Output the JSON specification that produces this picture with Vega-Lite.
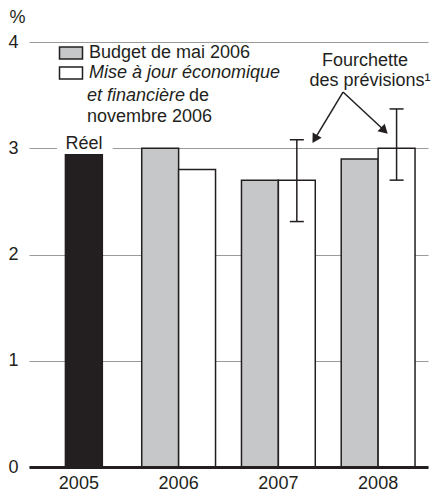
{
  "$schema": "https://vega.github.io/schema/vega-lite/v6.json",
  "width": 399,
  "height": 425,
  "autosize": {"type": "none"},
  "padding": {"left": 29, "top": 42, "right": 6, "bottom": 30},
  "background": "white",
  "config": {
    "view": {"stroke": null},
    "font": "Liberation Sans",
    "text": {"font": "Liberation Sans", "fontSize": 18, "color": "#231f20"}
  },
  "datasets": {
    "bars": [
      {"year": "2006", "series": "Budget de mai 2006", "value": 3.0},
      {"year": "2006", "series": "Mise à jour économique", "value": 2.8},
      {"year": "2007", "series": "Budget de mai 2006", "value": 2.7},
      {"year": "2007", "series": "Mise à jour économique", "value": 2.7},
      {"year": "2008", "series": "Budget de mai 2006", "value": 2.9},
      {"year": "2008", "series": "Mise à jour économique", "value": 3.0}
    ],
    "actual": [{"year": "2005", "value": 2.94}],
    "ranges": [
      {"year": "2007", "series": "Mise à jour économique", "low": 2.31, "high": 3.08},
      {"year": "2008", "series": "Mise à jour économique", "low": 2.7, "high": 3.37}
    ],
    "notesNormal": [
      {"label": "de", "x": 1.604, "y": 3.449},
      {"label": "novembre 2006", "x": 0.581, "y": 3.247}
    ],
    "notesItalic": [
      {"label": "et financière", "x": 0.581, "y": 3.449}
    ],
    "notesCenter": [
      {"label": "Réel", "x": 0.551, "y": 2.993},
      {"label": "Fourchette", "x": 3.368, "y": 3.774},
      {"label": "des prévisions¹", "x": 3.419, "y": 3.586}
    ],
    "mask": [{"x": 0.28, "x2": 0.84, "y": 2.97, "y2": 3.03}],
    "arrows": [
      {"arrow": "left", "x": 3.148, "y": 3.529, "x2": 2.873, "y2": 3.099},
      {"arrow": "right", "x": 3.148, "y": 3.529, "x2": 3.552, "y2": 3.176}
    ]
  },
  "layer": [
    {
      "layer": [
        {
          "data": {"name": "bars"},
          "mark": {"type": "bar", "stroke": "#231f20", "strokeWidth": 1.5},
          "encoding": {
            "x": {
              "field": "year", "type": "nominal",
              "scale": {"domain": ["2005", "2006", "2007", "2008"], "paddingInner": 0.26, "paddingOuter": 0.13},
              "axis": {
                "title": null, "labelAngle": 0, "labelFontSize": 18, "labelFont": "Liberation Sans",
                "labelColor": "#231f20", "ticks": false, "tickSize": 0, "labelPadding": 7,
                "domainColor": "#231f20", "domainWidth": 3, "zindex": 1
              }
            },
            "xOffset": {
              "field": "series", "type": "nominal",
              "scale": {"domain": ["Budget de mai 2006", "Mise à jour économique"], "paddingInner": 0, "paddingOuter": 0}
            },
            "y": {
              "field": "value", "type": "quantitative",
              "scale": {"domain": [0, 4], "nice": false, "zero": true},
              "axis": {
                "values": [0, 1, 2, 3, 4], "format": "d", "grid": true, "gridColor": "#9a9a9a", "gridWidth": 1,
                "domain": false, "ticks": false, "tickSize": 0, "labelPadding": 11,
                "labelFontSize": 18, "labelFont": "Liberation Sans", "labelColor": "#231f20",
                "title": "%", "titleAngle": 0, "titleX": -20, "titleY": -20, "titleAlign": "left",
                "titleBaseline": "alphabetic", "titleFontSize": 18, "titleFontWeight": "normal",
                "titleFont": "Liberation Sans", "titleColor": "#231f20"
              }
            },
            "fill": {
              "field": "series", "type": "nominal",
              "scale": {"domain": ["Budget de mai 2006", "Mise à jour économique"], "range": ["#c6c7c9", "#ffffff"]},
              "legend": {
                "orient": "none", "legendX": 31, "legendY": 0, "padding": 0,
                "title": null,
                "symbolType": "M-1.15,-0.6H1.15V0.6H-1.15Z",
                "symbolSize": 400, "symbolStrokeColor": "#231f20", "symbolStrokeWidth": 1.5,
                "symbolOpacity": 1,
                "labelFontSize": 18, "labelFont": "Liberation Sans", "labelColor": "#231f20",
                "labelOffset": 7, "labelLimit": 400, "rowPadding": 0,
                "encode": {
                  "labels": {"update": {"fontStyle": {"signal": "datum.value === 'Mise à jour économique' ? 'italic' : 'normal'"}}},
                  "symbols": {"update": {"strokeWidth": {"value": 1.5}, "stroke": {"value": "#231f20"}}}
                }
              }
            }
          }
        },
        {
          "data": {"name": "actual"},
          "mark": {"type": "bar", "fill": "#231f20", "stroke": "#231f20", "strokeWidth": 1.5, "width": {"band": 0.5}, "xOffset": 5},
          "encoding": {
            "x": {"field": "year", "type": "nominal", "scale": {"domain": ["2005", "2006", "2007", "2008"], "paddingInner": 0.26, "paddingOuter": 0.13}},
            "y": {"field": "value", "type": "quantitative"}
          }
        },
        {
          "data": {"name": "ranges"},
          "mark": {"type": "rule", "stroke": "#231f20", "strokeWidth": 1.5},
          "encoding": {
            "x": {"field": "year", "type": "nominal"},
            "xOffset": {"field": "series", "type": "nominal"},
            "y": {"field": "low", "type": "quantitative"},
            "y2": {"field": "high"}
          }
        },
        {
          "data": {"name": "ranges"},
          "mark": {"type": "tick", "color": "#231f20", "size": 14, "thickness": 1.5, "orient": "horizontal", "opacity": 1},
          "encoding": {
            "x": {"field": "year", "type": "nominal"},
            "xOffset": {"field": "series", "type": "nominal"},
            "y": {"field": "low", "type": "quantitative"}
          }
        },
        {
          "data": {"name": "ranges"},
          "mark": {"type": "tick", "color": "#231f20", "size": 14, "thickness": 1.5, "orient": "horizontal", "opacity": 1},
          "encoding": {
            "x": {"field": "year", "type": "nominal"},
            "xOffset": {"field": "series", "type": "nominal"},
            "y": {"field": "high", "type": "quantitative"}
          }
        }
      ]
    },
    {
      "layer": [
        {
          "data": {"name": "mask"},
          "mark": {"type": "rect", "fill": "white"},
          "encoding": {
            "x": {"field": "x", "type": "quantitative", "scale": {"domain": [0, 4], "nice": false, "zero": false}, "axis": null},
            "x2": {"field": "x2"},
            "y": {"field": "y", "type": "quantitative"},
            "y2": {"field": "y2"}
          }
        },
        {
          "data": {"name": "notesNormal"},
          "mark": {"type": "text", "align": "left", "baseline": "alphabetic", "fontSize": 18, "font": "Liberation Sans", "color": "#231f20"},
          "encoding": {
            "x": {"field": "x", "type": "quantitative", "axis": null},
            "y": {"field": "y", "type": "quantitative"},
            "text": {"field": "label"}
          }
        },
        {
          "data": {"name": "notesItalic"},
          "mark": {"type": "text", "align": "left", "baseline": "alphabetic", "fontSize": 18, "fontStyle": "italic", "font": "Liberation Sans", "color": "#231f20"},
          "encoding": {
            "x": {"field": "x", "type": "quantitative", "axis": null},
            "y": {"field": "y", "type": "quantitative"},
            "text": {"field": "label"}
          }
        },
        {
          "data": {"name": "notesCenter"},
          "mark": {"type": "text", "align": "center", "baseline": "alphabetic", "fontSize": 18, "font": "Liberation Sans", "color": "#231f20"},
          "encoding": {
            "x": {"field": "x", "type": "quantitative", "axis": null},
            "y": {"field": "y", "type": "quantitative"},
            "text": {"field": "label"}
          }
        },
        {
          "data": {"name": "arrows"},
          "mark": {"type": "rule", "stroke": "#231f20", "strokeWidth": 1.5},
          "encoding": {
            "x": {"field": "x", "type": "quantitative", "axis": null},
            "y": {"field": "y", "type": "quantitative"},
            "x2": {"field": "x2"},
            "y2": {"field": "y2"}
          }
        },
        {
          "data": {"name": "arrows"},
          "transform": [{"filter": "datum.arrow === 'left'"}],
          "mark": {"type": "point", "shape": "triangle", "filled": true, "color": "#231f20", "size": 110, "angle": 211, "opacity": 1},
          "encoding": {
            "x": {"field": "x2", "type": "quantitative", "axis": null},
            "y": {"field": "y2", "type": "quantitative"}
          }
        },
        {
          "data": {"name": "arrows"},
          "transform": [{"filter": "datum.arrow === 'right'"}],
          "mark": {"type": "point", "shape": "triangle", "filled": true, "color": "#231f20", "size": 110, "angle": 133, "opacity": 1},
          "encoding": {
            "x": {"field": "x2", "type": "quantitative", "axis": null},
            "y": {"field": "y2", "type": "quantitative"}
          }
        }
      ]
    }
  ],
  "resolve": {"scale": {"x": "independent"}}
}
